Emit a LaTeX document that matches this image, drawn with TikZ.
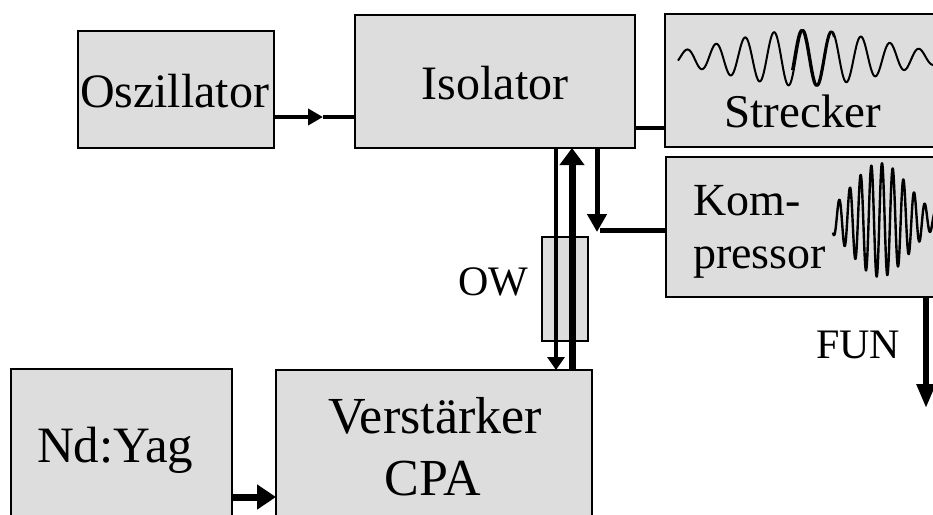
\documentclass[tikz,border=0pt]{standalone}
\usepackage{fontspec}
\setmainfont{Liberation Serif}
\usetikzlibrary{arrows.meta}
\definecolor{boxgray}{RGB}{221,221,221}
\begin{document}
\begin{tikzpicture}[x=1pt,y=-1pt,
  blk/.style={draw, line width=2pt, fill=boxgray, rectangle, inner sep=0pt, outer sep=0pt},
  txt/.style={inner sep=0pt, outer sep=0pt, font=\fontsize{#1pt}{#1pt}\selectfont},
  conn/.style={line width=#1},
  wave/.style={line width=2pt, line join=round}]
\useasboundingbox (0,0) rectangle (933,514);
\clip (0,0) rectangle (933,514);

% blocks
\node[blk, minimum width=196pt, minimum height=117pt] (osc)   at (176,89.5)  {};
\node[blk, minimum width=280pt, minimum height=133pt] (iso)   at (495,81.5)  {};
\node[blk, minimum width=280pt, minimum height=133pt] (str)   at (805,80.5)  {};
\node[blk, minimum width=279pt, minimum height=140pt] (komp)  at (805.5,227) {};
\node[blk, minimum width=46pt,  minimum height=104pt] (ow)    at (565,289)   {};
\node[blk, minimum width=316pt, minimum height=160pt] (verst) at (434,450)   {};
\node[blk, minimum width=221pt, minimum height=161pt] (nd)    at (121.5,449.5) {};

% labels
\node[txt=48, anchor=base west] (tosc)  at (80,107)  {Oszillator};
\node[txt=48, anchor=base]      (tiso)  at (495,99)  {Isolator};
\node[txt=47, anchor=base]      (tstr)  at (803,127) {Strecker};
\node[txt=46, anchor=base west] (tk1)   at (693,215) {Kom-};
\node[txt=46, anchor=base west] (tk2)   at (693,268) {pressor};
\node[txt=42, anchor=base]      (tow)   at (493,295) {OW};
\node[txt=42, anchor=base]      (tfun)  at (858,358) {FUN};
\node[txt=52, anchor=base]      (tv1)   at (435,433) {Verstärker};
\node[txt=52, anchor=base]      (tv2)   at (433,495) {CPA};
\node[txt=51, anchor=base west] (tnd)   at (37,462)  {Nd:Yag};

% stretched pulse
\draw[wave] plot[domain=678:945, samples=400]
  (\x, {58 - 28*exp(-(((\x-805)/108)^2))*cos((\x-803)/29*360)});
\draw[wave] plot[domain=792:834, samples=80]
  (\x, {58 - 28*exp(-(((\x-805)/108)^2))*cos((\x-801.5)/29.5*360)});

% compressed pulse
\draw[wave, line width=2.4pt] plot[domain=833:940, samples=500]
  (\x, {220 - 57*exp(-(((\x-880)/40)^2))*cos((\x-882)/10.7*360)});

% connector anchors
\coordinate (oa) at (323,117);
\coordinate (sa) at (650,128);
\coordinate (ka) at (597,232);
\coordinate (kb) at (600,230);
\coordinate (da) at (556,0);
\coordinate (ua) at (572,0);
\coordinate (fa) at (926,408);
\coordinate (na) at (0,497);

% connectors
\draw[conn=4.5pt, -{Triangle[length=15pt,width=16pt]}] (osc.east |- oa) -- (oa);
\draw[conn=4.5pt] (oa) -- (iso.west |- oa);
\draw[conn=4.5pt] (iso.east |- sa) -- (str.west |- sa);
\draw[conn=5pt, -{Triangle[length=18pt,width=19pt]}] (iso.south -| ka) -- (ka);
\draw[conn=5pt] (komp.west |- kb) -- (kb);
\draw[conn=4.3pt, -{Triangle[length=13pt,width=17pt]}] (iso.south -| da) -- (verst.north -| da);
\draw[conn=7pt, -{Triangle[length=17pt,width=24pt]}] (verst.north -| ua) -- (iso.south -| ua);
\draw[conn=5.5pt, -{Triangle[length=24pt,width=18pt]}] (komp.south -| fa) -- (fa);
\draw[conn=7pt, -{Triangle[length=19pt,width=24pt]}] (nd.east |- na) -- (verst.west |- na);
\end{tikzpicture}
\end{document}
